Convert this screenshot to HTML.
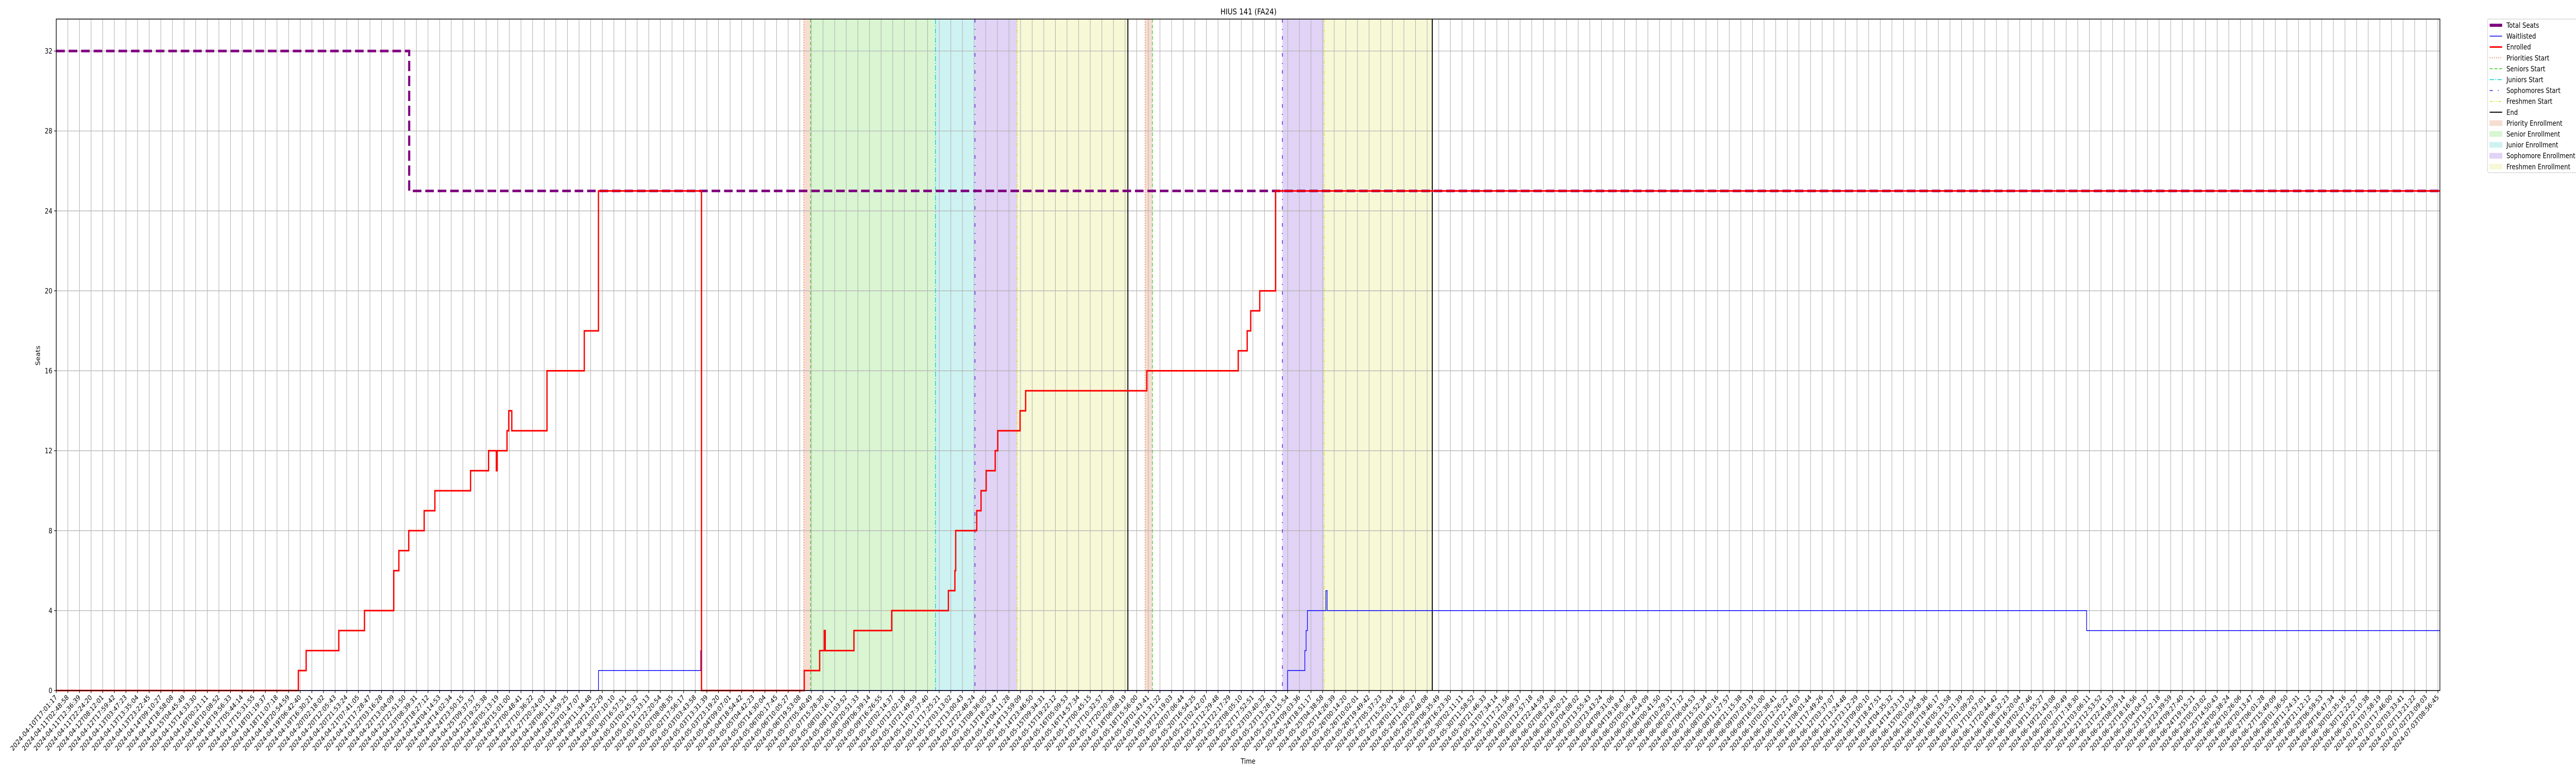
<!DOCTYPE html>
<html><head><meta charset="utf-8"><style>
html,body{margin:0;padding:0;background:#fff;overflow:hidden;width:100%;height:100%;}
svg{display:block;width:100vw;height:100vh;font-family:"DejaVu Sans","Liberation Sans",sans-serif;}
</style></head><body>
<svg id="chart" viewBox="0 0 6000 1500" preserveAspectRatio="none" xmlns="http://www.w3.org/2000/svg">
<rect x="0" y="0" width="6000" height="1500" fill="#fff"/>
<g id="spans"></g><g id="grid"></g><g id="vlines"></g><g id="series"></g><g id="axes"></g>
<text x="2908" y="28" font-size="16" text-anchor="middle">HIUS 141 (FA24)</text>
<text x="2907" y="1482" font-size="14" text-anchor="middle">Time</text>
<text x="0" y="0" font-size="14" text-anchor="middle" transform="translate(93,690) rotate(-90)">Seats</text>
<g id="legend"></g>
</svg>
<script>
// ---- data (x in tick-index units, y in seats) ----
const seatsX = [0, 30.38, 205.17];
const seatsY = [32, 25, 25];
const enrolledX = [0,20.84,21.51,24.32,26.53,29.05,29.49,30.34,31.67,32.59,35.66,37.21,37.88,37.95,38.80,38.95,39.21,42.24,45.45,46.67,55.54,64.38,65.71,66.11,66.19,68.66,71.91,76.79,77.35,77.42,79.23,79.60,80.04,80.82,81.04,82.96,83.44,93.87,101.74,102.51,102.81,103.59,104.95,205.17];
const enrolledY = [0,1,2,3,4,6,7,8,9,10,11,12,11,12,13,14,13,16,18,25,0,1,2,3,2,3,4,5,6,8,9,10,11,12,13,14,15,16,17,18,19,20,25,25];
const waitX = [0,46.67,55.47,55.54,105.99,107.47,107.58,107.69,109.28,109.39,174.76,205.17];
const waitY = [0,1,2,0,1,2,3,4,5,4,3,3];
const prioritiesStart = [64.34, 93.72];
const seniorsStart = [64.93, 94.35];
const juniorsStart = [75.68];
const sophomoresStart = [79.08, 105.54];
const freshmenStart = [82.71, 109.13];
const endTimes = [92.24, 118.44];
const priorityRanges = [[64.34,64.93],[93.72,94.35]];
const seniorRanges = [[64.93,75.68]];
const juniorRanges = [[75.68,79.08]];
const sophomoreRanges = [[79.08,82.71],[105.54,109.13]];
const freshmenRanges = [[82.71,92.24],[109.13,118.44]];
const yTicks = [0,4,8,12,16,20,24,28,32];
const tickCount = 206;
const tickLabels = [];
(function(){
  const t0 = Date.UTC(2024,3,10,17,1,17), t1 = Date.UTC(2024,6,3,8,56,45);
  for (let i=0;i<tickCount;i++){
    const d = new Date(t0 + (t1-t0)*i/(tickCount-1));
    tickLabels.push(d.toISOString().slice(0,19));
  }
})();
// ---- scales ----
const L=131, R=5683, T=37, B=1340;
const xMax=205.17, yMin=0, yMax=33.6;
const sx = v => L + (v/xMax)*(R-L);
const sy = v => B - (v-yMin)/(yMax-yMin)*(B-T);
const NS='http://www.w3.org/2000/svg';
function mk(tag, attrs, parent){
  const e=document.createElementNS(NS,tag);
  for(const k in attrs) e.setAttribute(k,attrs[k]);
  parent.appendChild(e); return e;
}
const gS=document.getElementById('spans'), gG=document.getElementById('grid'),
      gV=document.getElementById('vlines'), gD=document.getElementById('series'),
      gA=document.getElementById('axes'), gL=document.getElementById('legend');
function spans(ranges, color, name){
  ranges.forEach(r=>{
    const e=mk('rect',{x:sx(r[0]),y:T,width:sx(r[1])-sx(r[0]),height:B-T,fill:color},gS);
    
    
  });
}
spans(priorityRanges,'#f6ddd2','priority-enrollment-span');
spans(seniorRanges,'#d9f5d2','senior-enrollment-span');
spans(juniorRanges,'#cef2f2','junior-enrollment-span');
spans(sophomoreRanges,'#e0d3f5','sophomore-enrollment-span');
spans(freshmenRanges,'#f7f8d6','freshmen-enrollment-span');
for(let i=0;i<tickCount;i++){
  const x=sx(i);
  if(x>R+0.5) break;
  const g=mk('line',{x1:x,x2:x,y1:T,y2:B,stroke:'#b0b0b0','stroke-width':1.2},gG);
  
  
  mk('line',{x1:x,x2:x,y1:B,y2:B+5,stroke:'#000','stroke-width':1.2},gA);
  const t=mk('text',{x:0,y:0,'font-size':13.5,'text-anchor':'end',transform:`translate(${x+3},${B+14}) rotate(-45)`},gA);
  
  
  t.textContent=tickLabels[i];
}
yTicks.forEach(v=>{
  const y=sy(v);
  const g=mk('line',{x1:L,x2:R,y1:y,y2:y,stroke:'#b0b0b0','stroke-width':1.2},gG);
  
  
  mk('line',{x1:L-5,x2:L,y1:y,y2:y,stroke:'#000','stroke-width':1.2},gA);
  const t=mk('text',{x:L-9,y:y+5,'font-size':14,'text-anchor':'end'},gA);
  
  
  t.textContent=v;
});
function vl(arr,color,dash,w,name){
  arr.forEach(v=>{
    const e=mk('line',{x1:sx(v),x2:sx(v),y1:T,y2:B,stroke:color,'stroke-width':w,'stroke-dasharray':dash},gV);
    
    
  });
}
vl(prioritiesStart,'#f07838','2,3',1.5,'priorities-start-line');
vl(seniorsStart,'#3cc81e','7,4',1.5,'seniors-start-line');
vl(juniorsStart,'#00c8d2','10,3,2,3',1.5,'juniors-start-line');
vl(sophomoresStart,'#6a2be0','7,12,2,12',1.8,'sophomores-start-line');
vl(freshmenStart,'#e0e020','7,3,2,3,2,3',1.5,'freshmen-start-line');
vl(endTimes,'#000','',2.2,'end-line');
function stepPath(xs,ys){
  let d=`M${sx(xs[0])},${sy(ys[0])}`;
  for(let i=1;i<xs.length;i++){ d+=`H${sx(xs[i])}V${sy(ys[i])}`; }
  return d;
}
const p1=mk('path',{d:stepPath(seatsX,seatsY),fill:'none',stroke:'#800080','stroke-width':5,'stroke-dasharray':'20,9'},gD);


const p2=mk('path',{d:stepPath(waitX,waitY),fill:'none',stroke:'#0000ff','stroke-width':1.5},gD);


const p3=mk('path',{d:stepPath(enrolledX,enrolledY),fill:'none',stroke:'#ff0000','stroke-width':3},gD);


const fr=mk('rect',{x:L,y:T,width:R-L,height:B-T,fill:'none',stroke:'#000','stroke-width':1.5},gA);


mk('rect',{x:5794,y:37,width:220,height:298,rx:3,fill:'#fff',stroke:'#d0d0d0','stroke-width':1.2},gL);
const legendItems=[
 ['Total Seats','line','#800080',6,''],['Waitlisted','line','#0000ff',1.5,''],['Enrolled','line','#ff0000',3,''],
 ['Priorities Start','line','#f07838',1.5,'2,3'],['Seniors Start','line','#3cc81e',1.5,'7,4'],
 ['Juniors Start','line','#00c8d2',1.5,'10,3,2,3'],['Sophomores Start','line','#6a2be0',1.8,'7,12,2,12'],
 ['Freshmen Start','line','#e0e020',1.5,'7,3,2,3,2,3'],['End','line','#000',2,''],
 ['Priority Enrollment','rect','#f6ddd2'],['Senior Enrollment','rect','#d9f5d2'],['Junior Enrollment','rect','#cef2f2'],
 ['Sophomore Enrollment','rect','#e0d3f5'],['Freshmen Enrollment','rect','#f7f8d6']
];
legendItems.forEach((it,i)=>{
  const y=49+i*21.1;
  const g=mk('g',{},gL);
  
  
  if(it[1]==='line') mk('line',{x1:5799,x2:5828,y1:y,y2:y,stroke:it[2],'stroke-width':it[3],'stroke-dasharray':it[4]},g);
  else mk('rect',{x:5799,y:y-5,width:29,height:10,fill:it[2],stroke:it[2]},g);
  const t=mk('text',{x:5838,y:y+5,'font-size':14},g);
  t.textContent=it[0];
});
</script>
</body></html>
